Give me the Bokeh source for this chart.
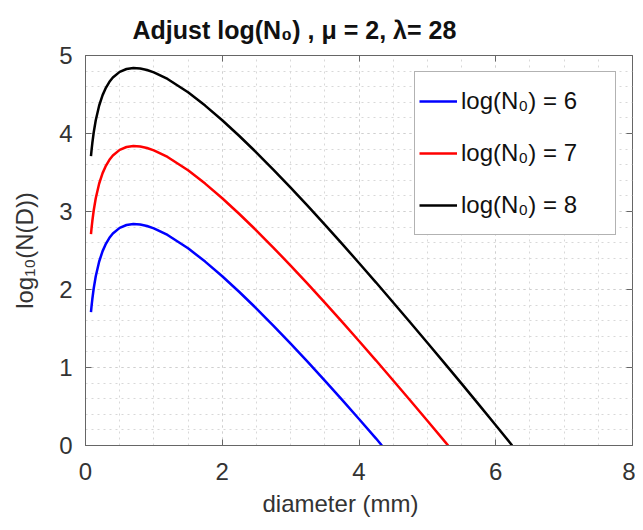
from bokeh.plotting import figure
from bokeh.models import (ColumnDataSource, Legend, LegendItem, LinearAxis, Range1d, FixedTicker,
                          CustomJSTickFormatter, Title)
from bokeh.embed import file_html
from bokeh.resources import INLINE

# diameter (mm) and log10(N(D))
diam_n6 = [0.08, 0.09, 0.1, 0.12, 0.15, 0.2, 0.25, 0.3, 0.35, 0.4, 0.5, 0.6, 0.7, 0.8, 0.9, 1.0,
           1.2, 1.5, 1.75, 2.0, 2.25, 2.5, 2.75, 3.0, 3.25, 3.5, 3.75, 4.0, 4.25, 4.335]
logN_n6 = [1.709, 1.799, 1.878, 2.013, 2.170, 2.359, 2.492, 2.589, 2.663, 2.718, 2.790, 2.827, 2.839, 2.833, 2.814, 2.784,
           2.699, 2.528, 2.358, 2.170, 1.968, 1.756, 1.535, 1.306, 1.072, 0.832, 0.588, 0.340, 0.089, 0.0]

diam_n7 = [0.08, 0.09, 0.1, 0.12, 0.15, 0.2, 0.25, 0.3, 0.35, 0.4, 0.5, 0.6, 0.7, 0.8, 0.9, 1.0,
           1.2, 1.5, 1.75, 2.0, 2.25, 2.5, 2.75, 3.0, 3.25, 3.5, 3.75, 4.0, 4.25, 4.5, 4.75, 5.0, 5.25, 5.304]
logN_n7 = [2.709, 2.799, 2.878, 3.013, 3.170, 3.359, 3.492, 3.589, 3.663, 3.718, 3.790, 3.827, 3.839, 3.833, 3.814, 3.784,
           3.699, 3.528, 3.358, 3.170, 2.968, 2.756, 2.535, 2.306, 2.072, 1.832, 1.588, 1.340, 1.089, 0.834, 0.577, 0.318, 0.056, 0.0]

diam_n8 = [0.08, 0.09, 0.1, 0.12, 0.15, 0.2, 0.25, 0.3, 0.35, 0.4, 0.5, 0.6, 0.7, 0.8, 0.9, 1.0,
           1.2, 1.5, 1.75, 2.0, 2.25, 2.5, 2.75, 3.0, 3.25, 3.5, 3.75, 4.0, 4.25, 4.5, 4.75, 5.0, 5.25, 5.5, 5.75, 6.0, 6.24]
logN_n8 = [3.709, 3.799, 3.878, 4.013, 4.170, 4.359, 4.492, 4.589, 4.663, 4.718, 4.790, 4.827, 4.839, 4.833, 4.814, 4.784,
           4.699, 4.528, 4.358, 4.170, 3.968, 3.756, 3.535, 3.306, 3.072, 2.832, 2.588, 2.340, 2.089, 1.834, 1.577, 1.318, 1.056,
           0.793, 0.527, 0.260, 0.0]

series_labels = ["log(N\u2080) = 6", "log(N\u2080) = 7", "log(N\u2080) = 8"]
series_colors = ["#0000ff", "#ff0000", "#000000"]
x_ticks = [0, 2, 4, 6, 8]
y_ticks = [0, 1, 2, 3, 4, 5]
title_text = "Adjust log(N\u2080) , \u03bc = 2, \u03bb= 28"
xlabel_text = "diameter (mm)"
ylabel_text = "log\u2081\u2080(N(D))"

FONT = "Liberation Sans"
TXT = "#333333"
BOX = "#666666"

p = figure(width=635, height=522, output_backend="svg", toolbar_location=None,
           x_range=Range1d(0, 8), y_range=Range1d(0, 5),
           min_border_left=85, min_border_right=3, min_border_top=55, min_border_bottom=77)
p.title.visible = False

p.outline_line_color = BOX
p.outline_line_width = 1

for ax in (p.xaxis[0], p.yaxis[0]):
    ax.major_label_text_font = FONT
    ax.major_label_text_font_size = "24px"
    ax.major_label_text_color = TXT
    ax.axis_label_text_font = FONT
    ax.axis_label_text_font_size = "24px"
    ax.axis_label_text_font_style = "normal"
    ax.axis_label_text_color = TXT
    ax.axis_line_color = BOX
    ax.major_tick_in = 6
    ax.major_tick_out = 0
    ax.major_tick_line_color = BOX
    ax.minor_tick_line_color = None

p.xaxis[0].ticker = FixedTicker(ticks=x_ticks, minor_ticks=[i * 0.5 for i in range(17)])
p.yaxis[0].ticker = FixedTicker(ticks=y_ticks, minor_ticks=[i * 0.2 for i in range(26)])
p.yaxis[0].axis_label = ylabel_text
p.xaxis[0].major_label_standoff = 13
p.yaxis[0].major_label_standoff = 9
p.yaxis[0].axis_label_standoff = 18

xlabel = Title(text=xlabel_text, align="left", offset=177, standoff=10,
               text_font=FONT, text_font_size="24px", text_font_style="normal", text_color=TXT)
p.add_layout(xlabel, "below")

blank = CustomJSTickFormatter(code="return ''")
top_ax = LinearAxis(ticker=FixedTicker(ticks=x_ticks), formatter=blank,
                    axis_line_color=None, major_tick_in=6, major_tick_out=0, major_label_standoff=0,
                    major_tick_line_color=BOX, minor_tick_line_color=None)
right_ax = LinearAxis(ticker=FixedTicker(ticks=y_ticks), formatter=blank,
                      axis_line_color=None, major_tick_in=6, major_tick_out=0, major_label_standoff=0,
                      major_tick_line_color=BOX, minor_tick_line_color=None)
p.add_layout(top_ax, "above")
p.add_layout(right_ax, "right")

main_title = Title(text=title_text, align="left", offset=47, standoff=23,
                   text_font=FONT, text_font_size="25px", text_font_style="bold", text_color="#111111")
p.add_layout(main_title, "above")

for g in (p.xgrid[0], p.ygrid[0]):
    g.grid_line_color = "#cfcfcf"
    g.grid_line_dash = "dotted"
    g.minor_grid_line_color = "#d8d8d8"
    g.minor_grid_line_dash = "dotted"

items = []
for xs, ys, col, lab in [(diam_n6, logN_n6, series_colors[0], series_labels[0]),
                         (diam_n7, logN_n7, series_colors[1], series_labels[1]),
                         (diam_n8, logN_n8, series_colors[2], series_labels[2])]:
    src = ColumnDataSource(dict(x=xs, y=ys))
    r = p.line("x", "y", source=src, line_color=col, line_width=2.5)
    items.append(LegendItem(label=lab, renderers=[r]))

legend = Legend(items=items, location="top_right", margin=16,
                label_text_font=FONT, label_text_font_size="24px", label_text_color="#111111",
                glyph_width=38, glyph_height=20, label_standoff=4, label_width=150, label_height=50,
                spacing=2, padding=4, border_line_color=BOX, border_line_width=1,
                background_fill_color="white", background_fill_alpha=1.0)
p.add_layout(legend, "center")

open("out.html", "w").write(file_html(p, INLINE))
